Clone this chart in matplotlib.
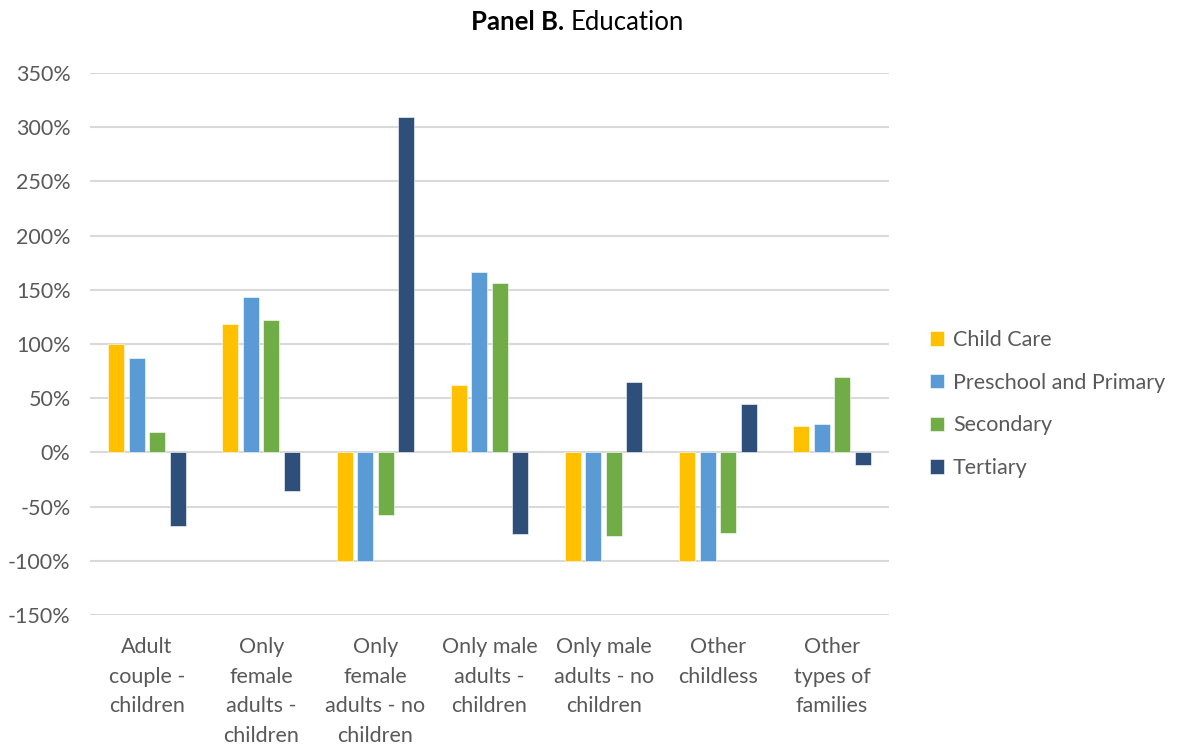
import matplotlib.pyplot as plt
import numpy as np

# data (percent change)
categories = ["Adult\ncouple -\nchildren", "Only\nfemale\nadults -\nchildren",
              "Only\nfemale\nadults - no\nchildren", "Only male\nadults -\nchildren",
              "Only male\nadults - no\nchildren", "Other\nchildless",
              "Other\ntypes of\nfamilies"]
series_names = ["Child Care", "Preschool and Primary", "Secondary", "Tertiary"]
child_care = [100, 118, -100, 62, -100, -100, 24]
preschool_primary = [87, 143, -100, 166, -100, -100, 26]
secondary = [19, 122, -58, 156, -77, -74, 70]
tertiary = [-68, -36, 309, -75, 65, 45, -12]
colors = ["#ffc000", "#5b9bd5", "#70ad47", "#2e4f7a"]

yticks = list(range(-150, 351, 50))

plt.rcParams['font.family'] = ['Lato', 'DejaVu Sans']

fig = plt.figure(figsize=(11.77, 7.44), dpi=100)
ax = fig.add_axes([90 / 1177, 1 - 615 / 744, (889 - 90) / 1177, (615 - 73) / 744])

x = np.arange(len(categories))
width = 0.14
step = 0.18
for i, (vals, name, c) in enumerate(zip(
        [child_care, preschool_primary, secondary, tertiary], series_names, colors)):
    ax.bar(x + (i - 1.5) * step, vals, width, color=c, label=name,
           edgecolor='white', linewidth=0.4, zorder=3)

ax.set_xlim(-0.5, len(categories) - 0.5)
ax.set_ylim(-150, 350)
ax.set_yticks(yticks)
ax.set_yticklabels([f"{v}%" for v in yticks])
ax.set_xticks(x)
ax.set_xticklabels(categories, linespacing=1.6, va='top')
ax.tick_params(axis='both', length=0, labelsize=15.5, colors='#595959')
ax.tick_params(axis='y', pad=14)
ax.tick_params(axis='x', pad=16)
ax.grid(axis='y', color='#d9d9d9', linewidth=1.5, zorder=0)
for s in ax.spines.values():
    s.set_visible(False)

fig.text(564 / 1177, 1 - 22 / 744, "Panel B.", ha='right', va='center',
         fontsize=18.5, fontweight='bold', color='black')
fig.text(571 / 1177, 1 - 22 / 744, "Education", ha='left', va='center',
         fontsize=18.5, color='black')

leg = fig.legend(loc='center left', bbox_to_anchor=(911 / 1177, 1 - 404 / 744),
                 frameon=False, fontsize=15.5, handlelength=0.65, handleheight=0.65,
                 handletextpad=0.4, labelspacing=1.05)
for t in leg.get_texts():
    t.set_color('#595959')

fig.savefig("out.png", dpi=100)
